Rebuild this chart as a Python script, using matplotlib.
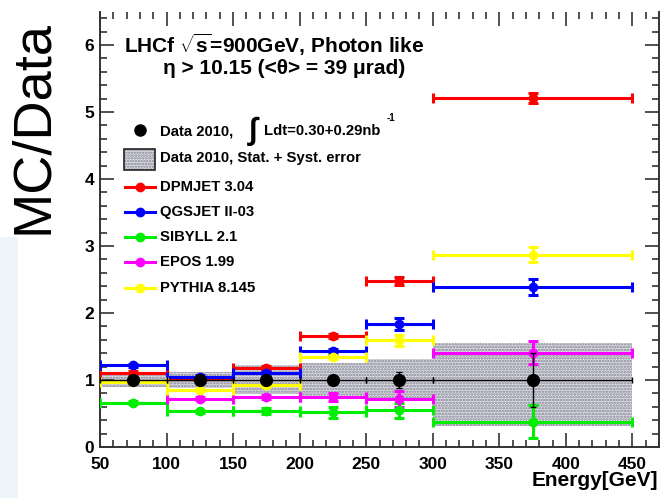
import numpy as np
import matplotlib
matplotlib.use("Agg")
import matplotlib.pyplot as plt
from matplotlib.patches import Rectangle
from matplotlib.lines import Line2D

plt.rcParams['font.family'] = ['Liberation Sans', 'DejaVu Sans']
plt.rcParams['mathtext.fontset'] = 'custom'
plt.rcParams['mathtext.rm'] = 'Liberation Sans:bold'
plt.rcParams['mathtext.it'] = 'Liberation Sans:bold'
plt.rcParams['mathtext.bf'] = 'Liberation Sans:bold'
plt.rcParams['hatch.linewidth'] = 1.2

# ---- data ----
edges = [50, 100, 150, 200, 250, 300, 450]
data = [1.0, 1.0, 1.0, 1.0, 1.0, 1.0]
data_err = [0.03, 0.03, 0.04, 0.05, 0.12, 0.41]
band_lo = [0.90, 0.88, 0.79, 0.75, 0.68, 0.31]
band_hi = [1.10, 1.12, 1.22, 1.26, 1.32, 1.55]

dpmjet = [1.11, 1.02, 1.18, 1.65, 2.48, 5.21]
dpmjet_err = [0.02, 0.02, 0.03, 0.03, 0.06, 0.08]
qgsjet = [1.22, 1.05, 1.11, 1.43, 1.83, 2.39]
qgsjet_err = [0.02, 0.02, 0.03, 0.04, 0.09, 0.12]
sibyll = [0.66, 0.53, 0.54, 0.52, 0.55, 0.38]
sibyll_err = [0.02, 0.02, 0.04, 0.08, 0.11, 0.25]
epos = [np.nan, 0.72, 0.75, 0.74, 0.71, 1.41]
epos_err = [0.0, 0.02, 0.03, 0.06, 0.12, 0.17]
pythia = [0.97, 0.85, 0.93, 1.35, 1.59, 2.87]
pythia_err = [0.02, 0.02, 0.03, 0.03, 0.08, 0.11]

models = [
    ("DPMJET 3.04", dpmjet, dpmjet_err, "#ff0000"),
    ("QGSJET II-03", qgsjet, qgsjet_err, "#0000ff"),
    ("SIBYLL 2.1", sibyll, sibyll_err, "#00ee00"),
    ("EPOS 1.99", epos, epos_err, "#ff00ff"),
    ("PYTHIA 8.145", pythia, pythia_err, "#ffff00"),
]

W, H = 664, 498
fig = plt.figure(figsize=(W / 100, H / 100), dpi=100)

def fx(px):
    return px / W

def fy(py):
    return 1 - py / H

# light blue stripe on the left
fig.patches.append(Rectangle((0, 0), fx(18), 1 - fy(261), transform=fig.transFigure,
                             facecolor="#eef6f9", edgecolor="none", zorder=0))

ax = fig.add_axes([fx(100), fy(447), fx(659) - fx(100), fy(11.5) - fy(447)])

e = np.array(edges, dtype=float)
centers = (e[:-1] + e[1:]) / 2
half = (e[1:] - e[:-1]) / 2

# stat + syst band
lo = np.array(band_lo)
hi = np.array(band_hi)
ax.bar(e[:-1], hi - lo, bottom=lo, width=e[1:] - e[:-1], align='edge',
       facecolor="#e2e2ea", edgecolor="#80808f", hatch="......", linewidth=0, zorder=1)

# models
for name, vals, errs, col in models:
    ax.errorbar(centers, vals, xerr=half, yerr=errs, fmt='o', color=col,
                markersize=6, elinewidth=2.2, capsize=3.5, capthick=2.2, zorder=3)

# data
ax.errorbar(centers, data, xerr=half, yerr=data_err, fmt='o', color='black',
            markersize=8.5, elinewidth=1.0, capsize=2.5, capthick=1.0, zorder=4)

ax.set_xlim(50, 470)
ax.set_ylim(0, 6.5)
ax.set_xticks([50, 100, 150, 200, 250, 300, 350, 400, 450])
ax.set_xticks(np.arange(50, 470, 10), minor=True)
ax.set_yticks([0, 1, 2, 3, 4, 5, 6])
ax.set_yticks(np.arange(0, 6.5, 0.2), minor=True)
ax.tick_params(which='both', direction='in', top=True, right=True, width=1.2, color='#333333')
ax.tick_params(which='major', length=10)
ax.tick_params(which='minor', length=5)
ax.tick_params(axis='x', which='major', pad=7, labelsize=12.5)
ax.tick_params(axis='y', which='major', pad=4, labelsize=12.5)
for lab in ax.get_xticklabels() + ax.get_yticklabels():
    lab.set_fontweight('bold')
for s in ['left', 'bottom', 'right']:
    ax.spines[s].set_linewidth(1.4)
    ax.spines[s].set_color('#333333')
ax.spines['top'].set_visible(False)

# axis labels
fig.text(fx(658), fy(480), "Energy[GeV]", ha='right', va='center', fontsize=15,
         fontweight='bold')
fig.text(fx(33), fy(127), "MC/Data", rotation=90, ha='center', va='center', fontsize=39)

# title
fig.text(fx(124), fy(45), r"LHCf $\sqrt{s}$=900GeV, Photon like", ha='left', va='center',
         fontsize=15, fontweight='bold')
fig.text(fx(284), fy(68), "η > 10.15 (<θ> = 39 μrad)", ha='center', va='center',
         fontsize=15, fontweight='bold')

# legend
lx0, lx1, lxm, tx = 125, 155, 140, 160
fs = 10.7
fig.add_artist(Line2D([fx(lxm)], [fy(130)], marker='o', color='black', markersize=8,
                      transform=fig.transFigure))
fig.text(fx(tx), fy(131), "Data 2010,", ha='left', va='center', fontsize=fs, fontweight='bold')
fig.text(fx(254), fy(131), r"$\int$", ha='center', va='center', fontsize=22)
fig.text(fx(264), fy(131), "Ldt=0.30+0.29nb", ha='left', va='center', fontsize=fs,
         fontweight='bold')
fig.text(fx(387), fy(118), "-1", ha='left', va='center', fontsize=7, fontweight='bold')

fig.patches.append(Rectangle((fx(124), fy(170)), fx(155) - fx(124), fy(149) - fy(170),
                             transform=fig.transFigure, facecolor="#e2e2ea",
                             edgecolor="#80808f", hatch="......", linewidth=0))
fig.patches.append(Rectangle((fx(124), fy(170)), fx(155) - fx(124), fy(149) - fy(170),
                             transform=fig.transFigure, facecolor="none",
                             edgecolor="#222222", linewidth=1.2))
fig.text(fx(tx), fy(158), "Data 2010, Stat. + Syst. error", ha='left', va='center',
         fontsize=fs, fontweight='bold')

leg_y = [187, 212, 237, 262, 288]
for (name, vals, errs, col), yy in zip(models, leg_y):
    fig.add_artist(Line2D([fx(lx0), fx(lx1)], [fy(yy), fy(yy)], color=col, linewidth=2.2,
                          transform=fig.transFigure))
    fig.add_artist(Line2D([fx(lxm)], [fy(yy)], marker='o', color=col, markersize=6,
                          transform=fig.transFigure))
    fig.text(fx(tx), fy(yy), name, ha='left', va='center', fontsize=fs, fontweight='bold')

fig.savefig("out.png", dpi=100)
